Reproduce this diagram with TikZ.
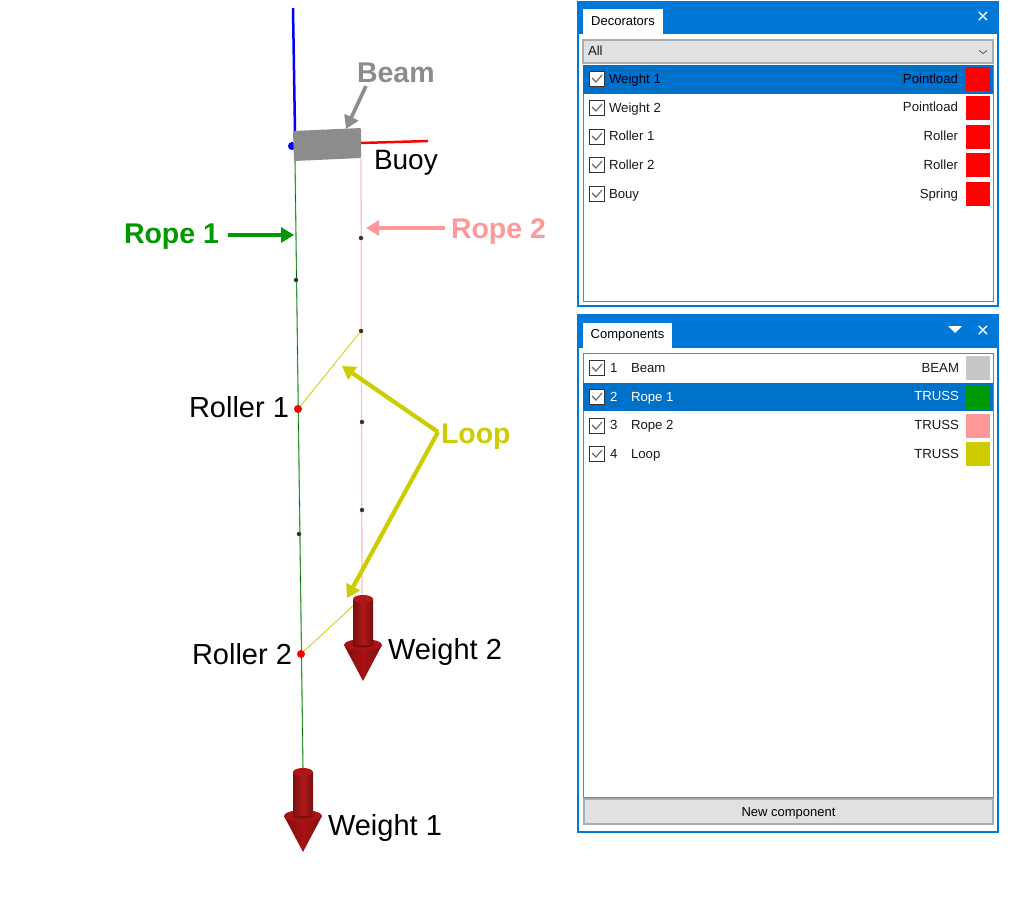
\documentclass[tikz,border=0pt]{standalone}
\usepackage{fontspec}
\setmainfont{Liberation Sans}
\usetikzlibrary{arrows.meta,positioning}
\definecolor{winblue}{HTML}{0078D7}
\definecolor{rowblue}{HTML}{0071C9}
\definecolor{btngrey}{HTML}{E1E1E1}
\definecolor{ropegreen}{HTML}{009900}
\definecolor{ropepink}{HTML}{FF9999}
\definecolor{loopyellow}{HTML}{CCCC00}
\definecolor{beamgrey}{HTML}{8C8C8C}
\definecolor{wdark}{HTML}{7A0E0E}
\definecolor{wmid}{HTML}{B01818}
\definecolor{wcone}{HTML}{A81212}
\begin{document}
\begin{tikzpicture}[x=1pt,y=-1pt,
  every node/.style={inner sep=0pt,outer sep=0pt},
  lab/.style={font=\fontsize{29}{30}\selectfont,text=black,anchor=west,text height=20pt,text depth=0pt},
  blab/.style={font=\fontsize{28.5}{30}\selectfont\bfseries,anchor=west,text height=20pt,text depth=0pt},
  mesh/.style={circle,fill=black!80,minimum size=4.5pt},
  roller/.style={circle,fill=red,minimum size=8pt},
  panel/.style={draw=winblue,line width=1.5pt,fill=white,anchor=north west},
  bar/.style={fill=winblue,anchor=north west},
  tabbox/.style={fill=white,anchor=north west,font=\fontsize{13}{14}\selectfont},
  listbox/.style={draw=black!50,line width=.8pt,fill=white,anchor=north west},
  rowsel/.style={fill=rowblue,anchor=north west,minimum width=410pt,minimum height=29pt},
  btn/.style={draw=black!32,line width=1.2pt,fill=btngrey,anchor=north west,font=\fontsize{13}{14}\selectfont},
  chk/.style={draw=black!80,line width=1.2pt,fill=white,minimum size=15pt,path picture={
    \draw[black!60,line width=1.1pt] ([shift={(-5pt,1pt)}]path picture bounding box.center) -- ([shift={(-1pt,-3pt)}]path picture bounding box.center) -- ([shift={(5pt,4pt)}]path picture bounding box.center);}},
  txt/.style={font=\fontsize{13.2}{15}\selectfont,anchor=west,text=black!90,text height=9.4pt,text depth=0pt},
  rtxt/.style={font=\fontsize{13.2}{15}\selectfont,anchor=east,text=black!90,text height=9.4pt,text depth=0pt},
  swatch/.style={minimum width=24pt,minimum height=24pt},
  closex/.style={text=white,font=\fontsize{21}{21}\selectfont},
  pt/.style={-{Triangle[length=13pt,width=15pt]},line width=3.6pt}]

% model
\coordinate (BlueEnd) at (293,8);
\coordinate (BlueBase) at (295,132);
\coordinate (RedBase) at (361,143);
\coordinate (RedEnd) at (428,141);
\coordinate (RopeOneTop) at (295,160);
\coordinate (RopeOneEnd) at (303,770);
\coordinate (RopeTwoTop) at (361,158);
\coordinate (RopeTwoEnd) at (362,596);
\coordinate (LoopEnd) at (355,604);
\draw[blue,line width=2.5pt] (BlueEnd) -- (BlueBase);
\fill[blue] (292,146) circle (4pt);
\draw[red,line width=2.5pt] (RedBase) -- (RedEnd);
\draw[ropegreen!35!white,line width=1.5pt] (RopeOneTop) -- (RopeOneEnd);
\draw[ropegreen!70!black,line width=.6pt] (RopeOneTop) -- (RopeOneEnd);
\draw[ropepink!60!white,line width=1.3pt] (RopeTwoTop) -- (RopeTwoEnd);
\node[mesh] (MeshA) at (296,280) {};
\node[mesh] (MeshB) at (299,534) {};
\node[mesh] (MeshC) at (361,238) {};
\node[mesh] (MeshD) at (361,331) {};
\node[mesh] (MeshE) at (362,422) {};
\node[mesh] (MeshF) at (362,510) {};
\node[roller] (RollerOne) at (298,409) {};
\node[roller] (RollerTwo) at (301,654) {};
\draw[loopyellow,line width=.8pt] (MeshD) -- (RollerOne);
\draw[loopyellow,line width=.8pt] (LoopEnd) -- (RollerTwo);
\fill[beamgrey,rounded corners=1pt] (293,131) -- (361,128) -- (361,158) -- (294,161) -- cycle;

% weight 2
\shade[left color=wdark,right color=wdark,middle color=wcone] (344,645) -- (363,681) -- (382,645) -- cycle;
\fill[wcone] (363,645) ellipse (19pt and 6pt);
\shade[left color=wdark,right color=wdark,middle color=wmid] (353,599) rectangle (373,645);
\fill[wmid] (363,599) ellipse (10pt and 4pt);
\fill[wdark] (353,645) arc (180:360:10pt and 2.5pt) -- cycle;
% weight 1
\shade[left color=wdark,right color=wdark,middle color=wcone] (284,816) -- (303,852) -- (322,816) -- cycle;
\fill[wcone] (303,816) ellipse (19pt and 6pt);
\shade[left color=wdark,right color=wdark,middle color=wmid] (293,772) rectangle (313,816);
\fill[wmid] (303,772) ellipse (10pt and 4pt);
\fill[wdark] (293,816) arc (180:360:10pt and 2.5pt) -- cycle;

% labels
\node[blab,text=beamgrey] (BeamLab) at (357,73) {Beam};
\node[lab,font=\fontsize{28}{30}\selectfont] (BuoyLab) at (374,159) {Buoy};
\node[blab,text=ropegreen] (RopeOneLab) at (124,233) {Rope 1};
\node[blab,text=ropepink] (RopeTwoLab) at (451,228) {Rope 2};
\node[blab,text=loopyellow] (LoopLab) at (441,433) {Loop};
\node[lab] (RollerOneLab) at (189,407) {Roller 1};
\node[lab] (RollerTwoLab) at (192,654) {Roller 2};
\node[lab] (WeightTwoLab) at (388,649) {Weight 2};
\node[lab] (WeightOneLab) at (328,825) {Weight 1};
\coordinate (BeamTail) at (366,86);
\coordinate (BeamTip) at (346,129);
\coordinate (OneTail) at (228,235);
\coordinate (OneTip) at (294,235);
\coordinate (TwoTail) at (445,228);
\coordinate (TwoTip) at (366,228);
\coordinate (LoopRoot) at (438,432);
\coordinate (LoopTipA) at (342,366);
\coordinate (LoopTipB) at (347,598);
\draw[pt,draw=beamgrey,fill=beamgrey] (BeamTail) -- (BeamTip);
\draw[pt,draw=ropegreen,fill=ropegreen] (OneTail) -- (OneTip);
\draw[pt,draw=ropepink,fill=ropepink] (TwoTail) -- (TwoTip);
\draw[pt,draw=loopyellow,fill=loopyellow,line width=4.2pt,line join=round] (LoopRoot) -- (LoopTipA);
\draw[pt,draw=loopyellow,fill=loopyellow,line width=4.2pt,line join=round] (LoopRoot) -- (LoopTipB);

% decorators panel
\node[panel,minimum width=420pt,minimum height=304pt] (DecPanel) at (578,2) {};
\node[bar,minimum width=420pt,minimum height=32pt] (DecBar) at (578,2) {};
\node[tabbox,minimum width=80pt,minimum height=25pt] (DecTab) at (583,9) {Decorators};
\node[closex] (DecClose) at (983,18) {×};
\node[btn,minimum width=410pt,minimum height=23pt] (DecCombo) at (583,40) {};
\node[txt] (DecAll) at (588,51) {All};
\node (DecChevron) at (983,52) {\tikz[x=1pt,y=1pt]\draw[black!70,line width=.7pt] (0,3) -- (4,0) -- (8,3);};
\node[listbox,minimum width=410pt,minimum height=236pt] (DecList) at (583,65) {};
\node[rowsel] (DecRow) at (583,65) {};
\node[chk] (ChkA) at (597,79) {};
\node[chk] (ChkB) at (597,108) {};
\node[chk] (ChkC) at (597,137) {};
\node[chk] (ChkD) at (597,165) {};
\node[chk] (ChkE) at (597,194) {};
\node[txt,text=black!85!blue] (DecA) at (609,79) {Weight 1};
\node[txt] (DecB) at (609,108) {Weight 2};
\node[txt] (DecC) at (609,136) {Roller 1};
\node[txt] (DecD) at (609,165) {Roller 2};
\node[txt] (DecE) at (609,194) {Bouy};
\node[rtxt,text=black!85!blue] (TypeA) at (958,79) {Pointload};
\node[rtxt] (TypeB) at (958,107) {Pointload};
\node[rtxt] (TypeC) at (958,136) {Roller};
\node[rtxt] (TypeD) at (958,165) {Roller};
\node[rtxt] (TypeE) at (958,194) {Spring};
\node[swatch,fill=red] (SwatchA) at (978,79) {};
\node[swatch,fill=red] (SwatchB) at (978,108) {};
\node[swatch,fill=red] (SwatchC) at (978,137) {};
\node[swatch,fill=red] (SwatchD) at (978,165) {};
\node[swatch,fill=red] (SwatchE) at (978,194) {};

% components panel
\node[panel,minimum width=420pt,minimum height=517pt] (CompPanel) at (578,315) {};
\node[bar,minimum width=420pt,minimum height=33pt] (CompBar) at (578,315) {};
\node[tabbox,minimum width=89pt,minimum height=25pt] (CompTab) at (583,323) {Components};
\node[closex] (CompClose) at (983,332) {×};
\fill[white] (948,326) -- (962,326) -- (955,333) -- cycle;
\node[listbox,minimum width=410pt,minimum height=444pt] (CompList) at (583,353) {};
\node[rowsel,minimum height=28pt] (CompRow) at (583,383) {};
\node[chk] (ChkF) at (597,368) {};
\node[chk] (ChkG) at (597,397) {};
\node[chk] (ChkH) at (597,426) {};
\node[chk] (ChkI) at (597,454) {};
\node[txt] (NumA) at (610,368) {1};
\node[txt,text=white] (NumB) at (610,397) {2};
\node[txt] (NumC) at (610,425) {3};
\node[txt] (NumD) at (610,454) {4};
\node[txt] (CompA) at (631,368) {Beam};
\node[txt,text=white] (CompB) at (631,397) {Rope 1};
\node[txt] (CompC) at (631,425) {Rope 2};
\node[txt] (CompD) at (631,454) {Loop};
\node[rtxt] (KindA) at (959,368) {BEAM};
\node[rtxt,text=white] (KindB) at (959,396) {TRUSS};
\node[rtxt] (KindC) at (959,425) {TRUSS};
\node[rtxt] (KindD) at (959,454) {TRUSS};
\node[swatch,fill=black!22] (SwatchF) at (978,368) {};
\node[swatch,fill=ropegreen] (SwatchG) at (978,397) {};
\node[swatch,fill=ropepink] (SwatchH) at (978,426) {};
\node[swatch,fill=loopyellow] (SwatchI) at (978,454) {};
\node[btn,minimum width=409pt,minimum height=25pt,text height=9.4pt,text depth=0pt] (NewBtn) at (584,799) {New component};

\useasboundingbox (0,0) rectangle (1010,907);
\end{tikzpicture}
\end{document}
